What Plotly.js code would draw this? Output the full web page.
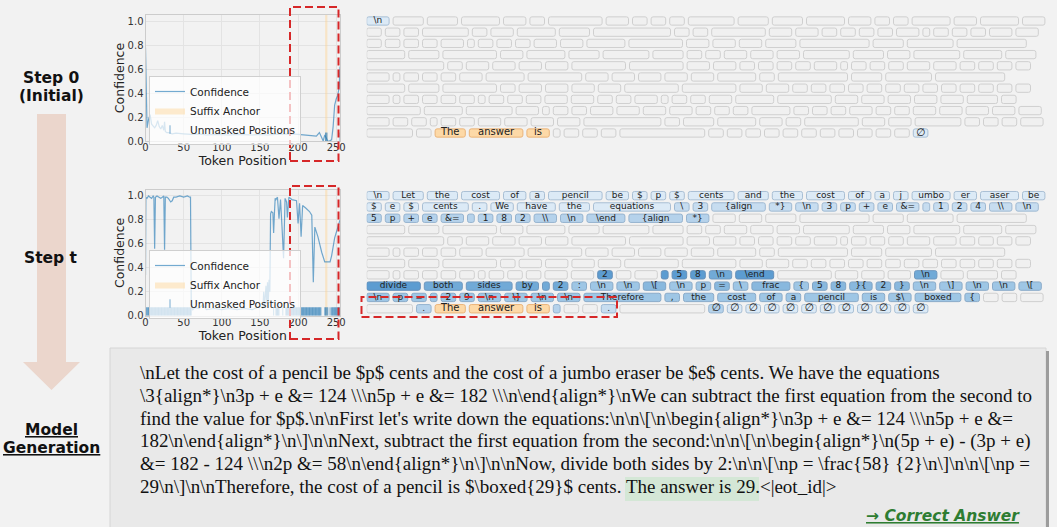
<!DOCTYPE html>
<html><head><meta charset="utf-8">
<script src="https://cdn.plot.ly/plotly-3.0.1.min.js"></script>
<style>html,body{margin:0;padding:0;background:#f2f2f2;}#chart{width:1057px;height:527px;}</style>
</head><body><div id="chart"></div>
<script>
// ---------------- DATA ----------------
// token rows of the decoding canvas: strings = revealed at step t, numbers = still-masked token (char length)
const row1 = ["\\n","Let","the","cost","of","a","pencil","be","$","p","$","cents","and","the","cost","of","a","j","umbo","er","aser","be"];
const row2 = ["$","e","$","cents",".","We","have","the","equations","\\","3","{align","*}","\\n","3","p","+","e","&="," ","1","2","4","\\\\","\\n"];
const row3 = ["5","p","+","e","&="," ","1","8","2","\\\\","\\n","\\end","{align","*}",2,2,3,8,3,5,8];
const row4 = [4,3,6,2,4,3,5,3,1,1,2,2,2,5,3,2,5,4,3];
const row5 = [9,1,2,2,2,2,6,6,2,2,1,1,1,1,2,0,1,1,1,2,2,1,1,1,1];
const row6 = [2,0,1,1,1,2,4,6,2,2,2,2,2,4,1,8,3,5,8];
const row7 = [4,3,6,1,2,2,2,2,6,6,2,2,1,1,1,1,1,1,1,1,1,1,1,1,1];
const row8 = [2,0,1,1,1,1,0,1,1,1,2,2,"2",1,2," ","5","8","\\n","\\end",6,2,2,2,"\\n",2,3,1];
const row9 = ["divide","both","sides","by"," ","2",":","\\n","\\n","\\[","\\n","p","=","\\","frac","{","5","8","}{","2","}","\\n","\\]","\\n","\\n","\\["];
const row10 = ["\\n","p","="," ","2","9","\\n","\\]","\\n","\\n","Therefore",",","the","cost","of","a","pencil","is","$\\","boxed","{",1,1,2];
const row11 = [5,".","The","answer","is"," ",1,1,".",10,"∅","∅","∅","∅","∅","∅","∅","∅","∅","∅","∅","∅"];

// shade level of each token at step t (0 = masked, 1..7 = blue shade, 9 = suffix anchor)
const lvl1 = [1,1,1,1,1,1,1,1,1,1,1,1,1,1,1,1,1,1,1,1,1,1];
const lvl2 = [1,1,1,1,1,1,1,1,1,2,2,2,2,2,2,2,2,2,2,2,2,2,2,2,2];
const lvl3 = [3,3,3,3,3,3,3,3,3,3,3,3,3,3,0,0,0,0,0,0,0];
const lvl4 = [0,0,0,0,0,0,0,0,0,0,0,0,0,0,0,0,0,0,0];
const lvl5 = [0,0,0,0,0,0,0,0,0,0,0,0,0,0,0,0,0,0,0,0,0,0,0,0,0];
const lvl6 = [0,0,0,0,0,0,0,0,0,0,0,0,0,0,0,0,0,0,0];
const lvl7 = [0,0,0,0,0,0,0,0,0,0,0,0,0,0,0,0,0,0,0,0,0,0,0,0,0];
const lvl8 = [0,0,0,0,0,0,0,0,0,0,0,0,7,0,0,7,7,7,6,7,0,0,0,0,6,0,0,0];
const lvl9 = [7,6,6,6,6,6,4,4,4,5,4,4,5,4,5,4,5,5,5,5,5,4,4,4,4,4];
const lvl10 = [4,4,4,4,4,4,4,4,4,4,4,4,4,4,4,4,4,4,4,4,4,0,0,0];
const lvl11 = [0,3,9,9,9,3,0,0,2,0,3,1,1,1,1,1,1,1,1,1,1,1];

// tokens already visible at step 0 (besides the suffix anchor)
const step0Visible = [0, 255];

// confidence curves
const step0X = [0,1,2,4,6,8,10,12,14,16,18,20,22,24,25,26,28,30,35,40,50,60,70,80,90,100,110,120,130,140,150,160,170,180,190,200,210,218,224,228,231,233,235,237,239,241,244,246,248,250,252,254,255];
const step0Conf = [0.78,0.4,0.11,0.18,0.22,0.14,0.12,0.11,0.13,0.17,0.12,0.10,0.13,0.09,0.16,0.08,0.07,0.07,0.06,0.065,0.06,0.055,0.06,0.05,0.055,0.05,0.05,0.055,0.05,0.05,0.055,0.05,0.055,0.06,0.06,0.055,0.05,0.045,0.04,0.07,0.02,0.0,0.05,0.02,0.0,0.0,0.01,0.12,0.3,0.35,0.38,0.45,0.62];
const stepTX = [0,0.5,2,4,6,8,10,11,12,13,15,18,20,22,24,25,26,28,30,32,33,35,37,40,45,50,55,58,59,60,62,65,70,75,80,90,100,110,120,130,140,150,154,155,156,158,159,160,161,162,163,164,165,167,168,169,170,171,173,175,177,179,181,183,185,186,188,192,198,200,202,204,206,210,215,218,220,222,226,231,235,242,244,248,254,255];
const stepTConf = [0.34,0.99,0.98,1.0,0.99,0.98,1.0,0.99,0.56,0.99,1.0,0.99,0.98,0.99,1.0,0.55,0.99,0.99,0.98,0.96,0.95,0.96,0.99,0.99,1.0,0.99,1.0,0.99,0.99,0.08,0.05,0.07,0.06,0.09,0.05,0.06,0.05,0.06,0.05,0.06,0.05,0.08,0.06,0.2,0.07,0.25,0.1,0.28,0.12,0.3,0.2,0.85,0.87,0.86,0.69,0.85,0.98,0.97,0.99,0.81,0.97,0.74,0.48,0.98,0.95,0.82,0.99,0.97,0.96,0.77,0.94,0.66,0.92,0.9,0.87,0.84,0.28,0.74,0.66,0.53,0.45,0.45,0.5,0.65,0.79,0.8];

const xTickVals = [0,50,100,150,200,250];
const yTickVals = [0,0.2,0.4,0.6,0.8,1.0];
const yTickText = ["0.0","0.2","0.4","0.6","0.8","1.0"];

const genLines = [
  "\\nLet the cost of a pencil be $p$ cents and the cost of a jumbo eraser be $e$ cents. We have the equations",
  "\\3{align*}\\n3p + e &amp;= 124 \\\\\\n5p + e &amp;= 182 \\\\\\n\\end{align*}\\nWe can subtract the first equation from the second to",
  "find the value for $p$.\\n\\nFirst let's write down the equations:\\n\\n\\[\\n\\begin{align*}\\n3p + e &amp;= 124 \\\\\\n5p + e &amp;=",
  "182\\n\\end{align*}\\n\\]\\n\\nNext, subtract the first equation from the second:\\n\\n\\[\\n\\begin{align*}\\n(5p + e) - (3p + e)",
  "&amp;= 182 - 124 \\\\\\n2p &amp;= 58\\n\\end{align*}\\n\\]\\n\\nNow, divide both sides by 2:\\n\\n\\[\\np = \\frac{58} {2}\\n\\]\\n\\n\\[\\np =",
  "29\\n\\]\\n\\nTherefore, the cost of a pencil is $\\boxed{29}$ cents. The answer is 29.&lt;|eot_id|&gt;"
];

// ---------------- BUILD ----------------
const W = 1057, H = 527;
const px = x => x / W, py = y => 1 - y / H;
const tokenRows = [row1,row2,row3,row4,row5,row6,row7,row8,row9,row10,row11];
const levelRows = [lvl1,lvl2,lvl3,lvl4,lvl5,lvl6,lvl7,lvl8,lvl9,lvl10,lvl11];
const CH = 7.8, PAD = 6.8, GAP = 4;
function tokLen(t){ if (typeof t === 'number') return t; if (t === ' ') return 0; return [...t].length; }
const flat = []; let k = 0;
tokenRows.forEach((row, r) => {
  let x0 = 0;
  row.forEach((t, j) => {
    const w = CH * tokLen(t) + PAD;
    flat.push({idx: k++, row: r + 1, x0: x0, w: w, label: (typeof t === 'number' || t === ' ') ? '' : t, lvT: levelRows[r][j]});
    x0 += w + GAP;
  });
});
const anchorIdx = flat.filter(d => d.lvT === 9).map(d => d.idx);
const N = flat.length;

const palette = {
  0: ['#f0f0f0', '#cfcfcf'], 1: ['#dceaf6', '#a9bfd4'], 2: ['#c7ddf0', '#9fb9d2'],
  3: ['#b5d2eb', '#97b4cf'], 4: ['#9ec6e5', '#8aabc9'], 5: ['#88b8de', '#7fa3c4'],
  6: ['#71aad7', '#6f98bf'], 7: ['#5c9cd1', '#648fb9'], 9: ['#fdd9a7', '#eab47a']
};
function lv0(d){ if (anchorIdx.includes(d.idx)) return 9; if (step0Visible.includes(d.idx)) return 1; return 0; }

function gridTraces(levelOf, xa, ya) {
  const lv = flat.map(levelOf);
  return [{
    type: 'bar', orientation: 'h', xaxis: xa, yaxis: ya,
    x: flat.map(d => d.w), base: flat.map(d => d.x0), y: flat.map(d => d.row), width: 0.74,
    marker: {color: lv.map(l => palette[l][0]), line: {color: lv.map(l => palette[l][1]), width: 1}, cornerradius: 2},
    showlegend: false, hoverinfo: 'skip'
  }, {
    type: 'scatter', mode: 'text', xaxis: xa, yaxis: ya, cliponaxis: false,
    x: flat.map(d => d.x0 + d.w / 2), y: flat.map(d => d.row),
    text: flat.map((d, i) => lv[i] > 0 ? d.label : ''),
    textfont: {family: 'DejaVu Sans', size: flat.map((d, i) => lv[i] === 9 ? 10 : (d.label === '∅' ? 10.5 : 9)), color: '#222'},
    showlegend: false, hoverinfo: 'skip'
  }];
}

const RUG_Y = 0.035;
const lineCol = 'rgba(31,119,180,0.62)';
function chartTraces(xs, ys, visibleIdx, xa, ya, leg) {
  const a0 = Math.min(...anchorIdx) - 0.5, a1 = Math.max(...anchorIdx) + 0.5;
  return [{
    type: 'scatter', mode: 'lines', xaxis: xa, yaxis: ya, legend: leg, legendrank: 2,
    x: [a0, a1, a1, a0, a0], y: [0, 0, 1.05, 1.05, 0], fill: 'toself',
    fillcolor: 'rgba(255,210,140,0.42)', line: {width: 0, color: 'rgba(0,0,0,0)'}, name: 'Suffix Anchor', hoverinfo: 'skip'
  }, {
    type: 'scatter', mode: 'lines', xaxis: xa, yaxis: ya, legend: leg, legendrank: 1,
    x: xs, y: ys, line: {color: lineCol, width: 1.2}, name: 'Confidence', hoverinfo: 'skip'
  }, {
    type: 'scatter', mode: 'markers', xaxis: xa, yaxis: ya, legend: leg, legendrank: 3,
    x: visibleIdx, y: visibleIdx.map(() => RUG_Y),
    marker: {symbol: 'line-ns-open', size: 6, line: {width: 1, color: 'rgba(31,119,180,0.6)'}, color: 'rgba(31,119,180,0.6)'},
    name: 'Unmasked Positions', hoverinfo: 'skip'
  }];
}

const vis0 = flat.filter(d => lv0(d) > 0).map(d => d.idx);
const visT = flat.filter(d => d.lvT > 0).map(d => d.idx);

const traces = [].concat(
  chartTraces(step0X, step0Conf, vis0, 'x', 'y', 'legend'),
  chartTraces(stepTX, stepTConf, visT, 'x2', 'y2', 'legend2'),
  gridTraces(lv0, 'x3', 'y3'),
  gridTraces(d => d.lvT, 'x4', 'y4')
);

function chartX(anchor){
  return {domain: [px(145.5), px(340)], range: [0, N - 1], anchor: anchor, tickvals: xTickVals,
    showgrid: true, gridcolor: '#e3e3e3', zeroline: false, showline: true, mirror: true, linecolor: '#cccccc',
    ticks: '', ticklabelstandoff: -3, tickfont: {size: 10, color: '#333'},
    title: {text: 'Token Position', font: {size: 12.5, color: '#222'}, standoff: 0}};
}
function chartY(anchor, top, bottom){
  return {domain: [py(bottom), py(top)], range: [0, 1.05], anchor: anchor, tickvals: yTickVals, ticktext: yTickText,
    showgrid: true, gridcolor: '#e3e3e3', zeroline: false, showline: true, mirror: true, linecolor: '#cccccc',
    ticks: '', ticklabelstandoff: -1, tickfont: {size: 10, color: '#333'},
    title: {text: 'Confidence', font: {size: 12.5, color: '#222'}, standoff: 0}};
}
const hidden = {visible: false, showgrid: false, zeroline: false};
const gridX = (anchor) => Object.assign({domain: [px(366.7), px(1046.7)], range: [0, 680], anchor: anchor}, hidden);
const gridY = (anchor, top, bottom) => Object.assign({domain: [py(bottom), py(top)], range: [11.5, 0.5], anchor: anchor}, hidden);

function rectPx(x0, y0, x1, y1, extra){ return Object.assign({type: 'rect', xref: 'paper', yref: 'paper', x0: px(x0), x1: px(x1), y0: py(y1), y1: py(y0)}, extra); }
function pathPx(pts, extra){
  const d = 'M' + pts.map(p => px(p[0]).toFixed(5) + ',' + py(p[1]).toFixed(5)).join('L') + 'Z';
  return Object.assign({type: 'path', xref: 'paper', yref: 'paper', path: d}, extra);
}
const redDash = {line: {color: '#d62728', width: 2, dash: '8px,4px'}, fillcolor: 'rgba(0,0,0,0)', layer: 'above'};

const shapes = [
  pathPx([[37,114],[66,114],[66,362],[80,362],[51.5,390],[23,362],[37,362]], {fillcolor: '#ebd6cc', line: {width: 0}, layer: 'below'}),
  rectPx(110, 348, 1046, 530, {fillcolor: '#e9e9e9', line: {color: '#d6d6d6', width: 1}, layer: 'below'}),
  rectPx(1046, 351, 1049, 530, {fillcolor: '#9c9c9c', line: {width: 0}, layer: 'below'}),
  rectPx(625, 477, 759, 501, {fillcolor: '#d4e7d6', line: {width: 0}, layer: 'below'}),
  rectPx(290, 7, 338.5, 161, redDash),
  rectPx(290, 186, 338.5, 339, redDash),
  rectPx(361.5, 297, 617, 317, redDash)
];

const annotations = [];
function label(x, y, text, font, extra){
  annotations.push(Object.assign({xref: 'paper', yref: 'paper', x: px(x), y: py(y), text: text, showarrow: false,
    xanchor: 'center', yanchor: 'middle', font: font}, extra || {}));
}
const boldF = {family: 'DejaVu Sans', size: 15.5, color: '#111', weight: 'bold'};
label(51, 78, 'Step 0', boldF);
label(51, 96, '(Initial)', boldF);
label(51, 258, 'Step t', boldF);
label(51, 430, 'Model', Object.assign({}, boldF, {lineposition: 'under'}));
label(51, 448, 'Generation', Object.assign({}, boldF, {lineposition: 'under'}));
genLines.forEach((t, i) => {
  label(138, 372.5 + i * 22.8, t, {family: 'Liberation Serif', size: 19, color: '#111'}, {xanchor: 'left'});
});
label(1022, 516, '→ Correct Answer', {family: 'DejaVu Sans', size: 15.5, color: '#2e7d32', weight: 'bold', style: 'italic', lineposition: 'under'}, {xanchor: 'right'});

const legendBase = {xanchor: 'left', yanchor: 'top', bgcolor: 'rgba(255,255,255,0.72)', bordercolor: '#cfcfcf', borderwidth: 1,
  font: {family: 'DejaVu Sans', size: 10.5, color: '#222'}, itemwidth: 30, tracegroupgap: 0};

const layout = {
  width: W, height: H, margin: {l: 0, r: 0, t: 0, b: 0},
  paper_bgcolor: '#f2f2f2', plot_bgcolor: '#f2f2f2',
  font: {family: 'DejaVu Sans', color: '#222'},
  hovermode: false, barmode: 'overlay', showlegend: true,
  xaxis: chartX('y'), yaxis: chartY('x', 15, 141),
  xaxis2: chartX('y2'), yaxis2: chartY('x2', 190, 315.7),
  xaxis3: gridX('y3'), yaxis3: gridY('x3', 15.4, 138.6),
  xaxis4: gridX('y4'), yaxis4: gridY('x4', 190, 314.4),
  legend: Object.assign({x: px(149), y: py(76)}, legendBase),
  legend2: Object.assign({x: px(149), y: py(250)}, legendBase),
  shapes: shapes, annotations: annotations
};

Plotly.newPlot('chart', traces, layout, {staticPlot: true, displayModeBar: false});
</script>
</body></html>
